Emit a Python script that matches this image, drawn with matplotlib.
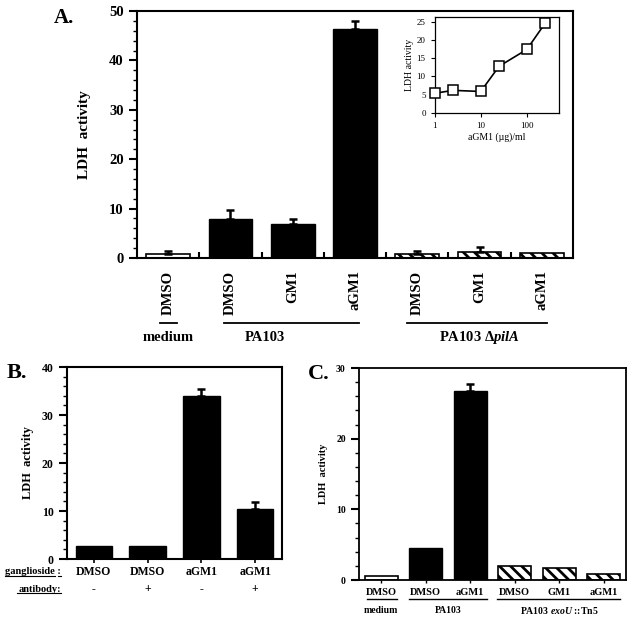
import numpy as np
import matplotlib
matplotlib.use("Agg")
import matplotlib.pyplot as plt
from matplotlib.lines import Line2D

plt.rcParams['font.family'] = 'Liberation Serif'
plt.rcParams['font.weight'] = 'bold'
plt.rcParams['mathtext.fontset'] = 'custom'
plt.rcParams['mathtext.rm'] = 'Liberation Serif:bold'
plt.rcParams['mathtext.it'] = 'Liberation Serif:italic:bold'
plt.rcParams['hatch.linewidth'] = 2.0

# ---- data ----
# panel A
a_labels = ['DMSO', 'DMSO', 'GM1', 'aGM1', 'DMSO', 'GM1', 'aGM1']
a_values = [0.8, 7.9, 6.9, 46.3, 0.8, 1.3, 1.0]
a_errors = [0.55, 1.9, 1.0, 1.7, 0.7, 1.0, 0.0]
a_styles = ['open', 'solid', 'solid', 'solid', 'hatch', 'hatch', 'hatch']

# inset of panel A
inset_dose = [1, 2.5, 10, 25, 100, 250]
inset_ldh = [5.4, 6.2, 5.9, 12.8, 17.4, 24.6]

# panel B
b_ganglioside = ['DMSO', 'DMSO', 'aGM1', 'aGM1']
b_antibody = ['-', '+', '-', '+']
b_values = [2.8, 2.7, 33.9, 10.5]
b_errors = [0.0, 0.0, 1.5, 1.3]

# panel C
c_labels = ['DMSO', 'DMSO', 'aGM1', 'DMSO', 'GM1', 'aGM1']
c_values = [0.6, 4.5, 26.7, 2.0, 1.65, 0.85]
c_errors = [0.0, 0.0, 1.1, 0.0, 0.0, 0.0]
c_styles = ['open', 'solid', 'solid', 'hatch', 'hatch', 'hatch']

W, H = 633, 619
fig = plt.figure(figsize=(W / 100, H / 100), dpi=100)


def px_axes(left, top, right, bottom):
    return fig.add_axes([left / W, 1 - bottom / H, (right - left) / W, (bottom - top) / H])


def draw_bars(ax, values, errors, styles, width):
    x = np.arange(len(values))
    for i, (v, s) in enumerate(zip(values, styles)):
        if s == 'solid':
            ax.bar(x[i], v, width, color='black', edgecolor='black', linewidth=1)
        elif s == 'open':
            ax.bar(x[i], v, width, color='white', edgecolor='black', linewidth=1.2)
        else:
            ax.bar(x[i], v, width, color='white', edgecolor='black', linewidth=1.2,
                   hatch='\\\\\\')
    for i, (v, e) in enumerate(zip(values, errors)):
        if e > 0:
            ax.errorbar(x[i], v, yerr=[[0], [e]], fmt='none', ecolor='black',
                        elinewidth=1.8, capsize=3, capthick=1.8)
    return x


def style_axes(ax, lw=1.5):
    for sp in ax.spines.values():
        sp.set_linewidth(lw)
    ax.tick_params(axis='y', which='major', length=6, width=1.5, direction='out')
    ax.tick_params(axis='y', which='minor', length=3, width=1, direction='out')


def group_line(ax, x0, x1, y, lw=1.3):
    ax.plot([x0, x1], [y, y], color='black', lw=lw, transform=ax.get_xaxis_transform(),
            clip_on=False)


# ---------------- panel A ----------------
axA = px_axes(137, 11, 573, 258)
xa = draw_bars(axA, a_values, a_errors, a_styles, 0.7)
axA.set_xlim(-0.5, len(a_values) - 0.5)
axA.set_ylim(0, 50)
axA.set_yticks([0, 10, 20, 30, 40, 50])
axA.set_yticks(np.arange(0, 51, 2), minor=True)
axA.set_xticks(xa)
axA.set_xticklabels(a_labels, rotation=90, fontsize=10.5, fontweight='bold')
axA.set_xticks(np.arange(0.5, len(a_values) - 1, 1), minor=True)
axA.tick_params(axis='x', which='major', length=0, pad=9)
axA.tick_params(axis='x', which='minor', length=4, width=1.5, direction='in')
axA.tick_params(axis='y', labelsize=10.5)
style_axes(axA)
axA.set_ylabel('LDH  activity', fontsize=11, fontweight='bold', labelpad=13)
group_line(axA, -0.13, 0.14, -0.263)
group_line(axA, 0.9, 3.06, -0.263)
group_line(axA, 3.83, 6.08, -0.263)
axA.text(0, -0.32, 'medium', transform=axA.get_xaxis_transform(), ha='center', va='center',
         fontsize=10.5, fontweight='bold')
axA.text(1.55, -0.32, 'PA103', transform=axA.get_xaxis_transform(), ha='center', va='center',
         fontsize=10.5, fontweight='bold')
axA.text(5.0, -0.32, r'PA103 $\Delta\mathit{pilA}$', transform=axA.get_xaxis_transform(),
         ha='center', va='center', fontsize=10.5, fontweight='bold')
fig.text(64 / W, 1 - 18 / H, 'A.', fontsize=15, fontweight='bold', ha='center', va='center')

# inset
axI = px_axes(434.7, 17, 559, 113)
axI.plot(inset_dose, inset_ldh, color='black', lw=1.2, marker='s', markersize=7,
         markerfacecolor='white', markeredgecolor='black', markeredgewidth=1.1, clip_on=False,
         zorder=5)
axI.set_xscale('log')
axI.set_xlim(1, 500)
axI.set_ylim(0, 26.3)
axI.set_yticks([0, 5, 10, 15, 20, 25])
axI.set_xticks([1, 10, 100])
axI.set_xticklabels(['1', '10', '100'])
axI.minorticks_off()
axI.tick_params(labelsize=6.5, length=3, width=0.8)
for lab in axI.get_xticklabels() + axI.get_yticklabels():
    lab.set_fontweight('normal')
for sp in axI.spines.values():
    sp.set_linewidth(0.9)
axI.set_ylabel('LDH activity', fontsize=7, fontweight='normal', labelpad=2)
axI.set_xlabel('aGM1 (\u00b5g)/ml', fontsize=7, fontweight='normal', labelpad=2)

# ---------------- panel B ----------------
axB = px_axes(67, 367, 282, 559)
xb = draw_bars(axB, b_values, b_errors, ['solid'] * 4, 0.68)
axB.set_xlim(-0.5, len(b_values) - 0.5)
axB.set_ylim(0, 40)
axB.set_yticks([0, 10, 20, 30, 40])
axB.set_yticks(np.arange(0, 41, 2), minor=True)
axB.set_xticks(xb)
axB.set_xticklabels([])
axB.tick_params(axis='x', length=3, width=1.2, direction='out')
axB.tick_params(axis='y', labelsize=8.5)
style_axes(axB)
axB.set_ylabel('LDH  activity', fontsize=9, fontweight='bold', labelpad=6)
for i in range(len(b_values)):
    axB.text(xb[i], -0.068, b_ganglioside[i], transform=axB.get_xaxis_transform(),
             ha='center', va='center', fontsize=8.5, fontweight='bold')
    axB.text(xb[i], -0.156, b_antibody[i], transform=axB.get_xaxis_transform(),
             ha='center', va='center', fontsize=8.5, fontweight='bold')
fig.text(61 / W, 1 - 572 / H, 'ganglioside :', fontsize=7.5, fontweight='bold', ha='right',
         va='center')
fig.text(61 / W, 1 - 589 / H, 'antibody:', fontsize=7.5, fontweight='bold', ha='right',
         va='center')
fig.add_artist(Line2D([5 / W, 55 / W], [1 - 576 / H] * 2, color='black', lw=0.8))
fig.add_artist(Line2D([58 / W, 61 / W], [1 - 576 / H] * 2, color='black', lw=0.8))
fig.add_artist(Line2D([17 / W, 61 / W], [1 - 593 / H] * 2, color='black', lw=0.8))
fig.text(17 / W, 1 - 373 / H, 'B.', fontsize=16, fontweight='bold', ha='center', va='center')

# ---------------- panel C ----------------
axC = px_axes(359, 368, 626, 580)
xc = draw_bars(axC, c_values, c_errors, c_styles, 0.74)
axC.set_xlim(-0.5, len(c_values) - 0.5)
axC.set_ylim(0, 30)
axC.set_yticks([0, 10, 20, 30])
axC.set_yticks(np.arange(0, 31, 2), minor=True)
axC.set_xticks(xc)
axC.set_xticklabels([])
axC.tick_params(axis='x', length=2, width=1, direction='out')
axC.tick_params(axis='y', labelsize=7)
style_axes(axC, lw=1.3)
axC.set_ylabel('LDH  activity', fontsize=7.5, fontweight='bold', labelpad=6)
for i in range(len(c_values)):
    axC.text(xc[i], -0.057, c_labels[i], transform=axC.get_xaxis_transform(),
             ha='center', va='center', fontsize=7.5, fontweight='bold')
group_line(axC, -0.32, 0.35, -0.09, lw=1.0)
group_line(axC, 0.62, 2.38, -0.09, lw=1.0)
group_line(axC, 2.6, 5.37, -0.09, lw=1.0)
axC.text(0, -0.142, 'medium', transform=axC.get_xaxis_transform(), ha='center', va='center',
         fontsize=7, fontweight='bold')
axC.text(1.5, -0.142, 'PA103', transform=axC.get_xaxis_transform(), ha='center', va='center',
         fontsize=7, fontweight='bold')
axC.text(4.0, -0.142, r'PA103 $\mathit{exoU}$ ::Tn5', transform=axC.get_xaxis_transform(),
         ha='center', va='center', fontsize=7, fontweight='bold')
fig.text(319 / W, 1 - 374 / H, 'C.', fontsize=16, fontweight='bold', ha='center', va='center')

fig.savefig('out.png', dpi=100)
